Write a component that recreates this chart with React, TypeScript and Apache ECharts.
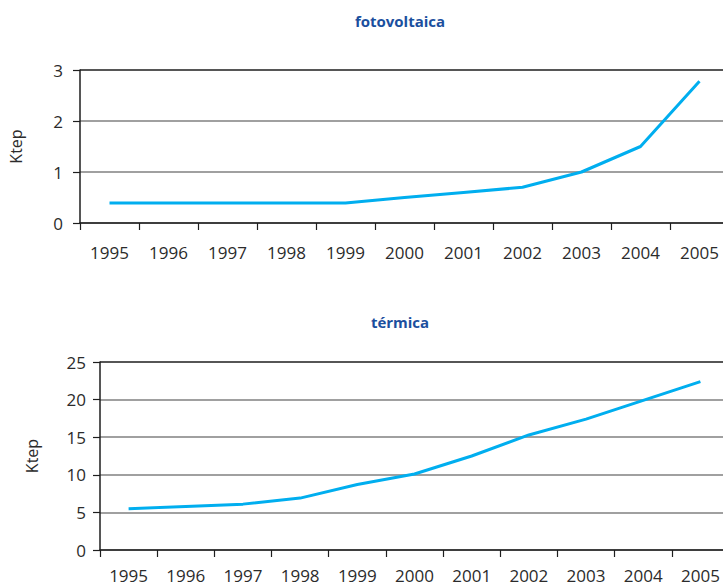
import React, { useEffect, useRef } from "react";
import * as echarts from "echarts";

const years = ["1995", "1996", "1997", "1998", "1999", "2000", "2001", "2002", "2003", "2004", "2005"];
const fotovoltaica = [0.39, 0.39, 0.39, 0.39, 0.39, 0.5, 0.6, 0.7, 1.0, 1.5, 2.78];
const termica = [5.5, 5.8, 6.1, 6.9, 8.7, 10.1, 12.5, 15.3, 17.4, 19.9, 22.4];
const fotoTicks = [0, 1, 2, 3];
const termicaTicks = [0, 5, 10, 15, 20, 25];
const titles = ["fotovoltaica", "térmica"];
const unit = "Ktep";

const FONT = "Open Sans";
const LINE = "#00aeef";
const GRID = "#808080";
const DARK = "#1e1e1e";
const TXT = "#2b2b2b";

function yAxis(ticks: number[], gridIndex: number, labelMargin: number, nameGap: number) {
  const colors = ticks.map((_, i) => (i === ticks.length - 1 ? DARK : GRID));
  return {
    type: "value",
    gridIndex,
    min: ticks[0],
    max: ticks[ticks.length - 1],
    interval: ticks[1] - ticks[0],
    name: unit,
    nameLocation: "middle",
    nameGap,
    nameTextStyle: { fontFamily: FONT, fontSize: 16, color: TXT },
    axisLine: { show: true, lineStyle: { color: DARK, width: 1.5 } },
    axisTick: { show: true, length: 7, lineStyle: { color: DARK, width: 1.2 } },
    axisLabel: { margin: labelMargin, fontFamily: FONT, fontSize: 17, color: TXT },
    splitLine: { show: true, lineStyle: { color: colors, width: 1.5 } },
  };
}

function xAxis(gridIndex: number, labelMargin: number) {
  return {
    type: "category",
    gridIndex,
    data: years,
    boundaryGap: true,
    axisLine: { show: true, lineStyle: { color: DARK, width: 1.5 } },
    axisTick: { show: true, length: 7, lineStyle: { color: DARK, width: 1.2 } },
    axisLabel: { margin: labelMargin, fontFamily: FONT, fontSize: 17, color: TXT, interval: 0 },
    splitLine: { show: false },
  };
}

export default function App() {
  const ref = useRef<HTMLDivElement>(null);
  useEffect(() => {
    if (!ref.current) return;
    const chart = echarts.init(ref.current, null, { renderer: "svg" });
    chart.setOption({
      animation: false,
      backgroundColor: "#ffffff",
      graphic: [
        {
          type: "text",
          x: 400,
          y: 21,
          style: {
            text: titles[0],
            fontFamily: FONT,
            fontSize: 15,
            fontWeight: "bold",
            fill: "#1b4f9e",
            textAlign: "center",
            textVerticalAlign: "middle",
          },
        },
        {
          type: "text",
          x: 400,
          y: 322,
          style: {
            text: titles[1],
            fontFamily: FONT,
            fontSize: 15,
            fontWeight: "bold",
            fill: "#1b4f9e",
            textAlign: "center",
            textVerticalAlign: "middle",
          },
        },
      ],
      grid: [
        { left: 79, top: 70, width: 650, height: 153 },
        { left: 100, top: 362, width: 629, height: 188 },
      ],
      xAxis: [xAxis(0, 21), xAxis(1, 17)],
      yAxis: [yAxis(fotoTicks, 0, 17, 56), yAxis(termicaTicks, 1, 14, 60)],
      series: [
        {
          type: "line",
          xAxisIndex: 0,
          yAxisIndex: 0,
          data: fotovoltaica,
          symbol: "none",
          lineStyle: { color: LINE, width: 3 },
        },
        {
          type: "line",
          xAxisIndex: 1,
          yAxisIndex: 1,
          data: termica,
          symbol: "none",
          lineStyle: { color: LINE, width: 3 },
        },
      ],
    });
    return () => chart.dispose();
  }, []);
  return (
    <div style={{ position: "fixed", left: 0, top: 0, width: 723, height: 586, overflow: "hidden", background: "#fff" }}>
      <div ref={ref} style={{ width: 740, height: 586 }} />
    </div>
  );
}
